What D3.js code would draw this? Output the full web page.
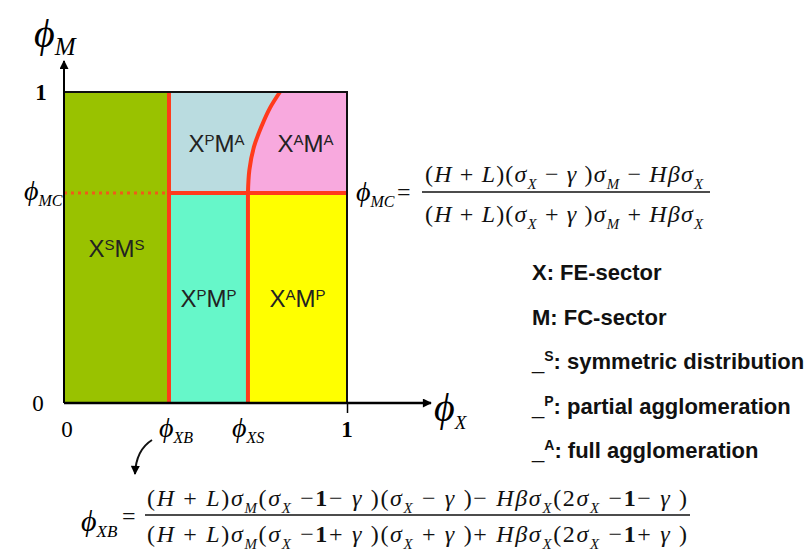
<!DOCTYPE html>
<html>
<head>
  <meta charset="utf-8">
  <title>Agglomeration regimes</title>
  <style type="text/css">
    body { margin: 0; background-color: #fff; }
    svg { display: block; background-color: #fff; }
    .serif { font-family: "Liberation Serif", "Times New Roman", serif; }
    .sans { font-family: "Liberation Sans", Arial, sans-serif; }
  </style>
  <script src="https://d3js.org/d3.v7.min.js"></script>
</head>
<body>
<script>
// boundaries (share of each sector)
var phiXB = 0.371, phiXS = 0.65, phiMC = 0.675;
// the curved border between X^P M^A and X^A M^A
var curveX = [0.650, 0.655, 0.671, 0.700, 0.728, 0.763];
var curveM = [0.675, 0.749, 0.823, 0.894, 0.949, 1.0];

var regionX = ["S", "P", "A", "P", "A"];
var regionM = ["S", "A", "A", "P", "P"];

var legendKeys = ["X", "M", "S", "P", "A"];
var legendText = ["FE-sector", "FC-sector", "symmetric distribution", "partial agglomeration", "full agglomeration"];

var tickValues = [0, 1];

var PHI = "\u03d5";

var svg = d3.select("body").append("svg")
  .attr("width", 811)
  .attr("height", 559);

var x = d3.scaleLinear().domain([0, 1]).range([64, 347]);
var y = d3.scaleLinear().domain([0, 1]).range([403, 92]);

var red = "#ff3b1c";

// arrow head
svg.append("defs").append("marker")
  .attr("id", "arrow")
  .attr("viewBox", "0 0 10 10")
  .attr("refX", 9).attr("refY", 5)
  .attr("markerWidth", 10).attr("markerHeight", 9)
  .attr("markerUnits", "userSpaceOnUse")
  .attr("orient", "auto")
  .append("path").attr("d", "M0,0L10,5L0,10z").attr("fill", "#000");

var plot = svg.append("g");

// Build the regions
var boxes = [
  {x0: 0, x1: phiXB, y0: 0, y1: 1, fill: "#99c200"},
  {x0: phiXB, x1: 1, y0: phiMC, y1: 1, fill: "#badce0"},
  {x0: phiXB, x1: phiXS, y0: 0, y1: phiMC, fill: "#66f7c9"},
  {x0: phiXS, x1: 1, y0: 0, y1: phiMC, fill: "#ffff00"}
];

plot.selectAll("rect.region").data(boxes).enter().append("rect")
  .attr("class", "region")
  .attr("x", function(d) { return x(d.x0); })
  .attr("y", function(d) { return y(d.y1); })
  .attr("width", function(d) { return x(d.x1) - x(d.x0); })
  .attr("height", function(d) { return y(d.y0) - y(d.y1); })
  .style("fill", function(d) { return d.fill; });

var curvePts = curveX.map(function(v, i) { return [v, curveM[i]]; });

var curveLine = d3.line()
  .x(function(d) { return x(d[0]); })
  .y(function(d) { return y(d[1]); })
  .curve(d3.curveCatmullRom);

// pink area right of the curve
plot.append("path")
  .attr("d", curveLine(curvePts) + "L" + x(1) + "," + y(1) + "L" + x(1) + "," + y(phiMC) + "Z")
  .style("fill", "#f8a9de");

// red borders
var borders = [
  [[phiXB, 0], [phiXB, 1]],
  [[phiXS, 0], [phiXS, phiMC]],
  [[phiXB, phiMC], [1, phiMC]]
];
plot.selectAll("path.border").data(borders).enter().append("path")
  .attr("class", "border")
  .attr("d", d3.line().x(function(d) { return x(d[0]); }).y(function(d) { return y(d[1]); }))
  .style("fill", "none").style("stroke", red).style("stroke-width", 4);

plot.append("path")
  .attr("d", curveLine(curvePts))
  .style("fill", "none").style("stroke", red).style("stroke-width", 4);

// dotted guide for phi_MC
plot.append("line")
  .attr("x1", x(0)).attr("x2", x(phiXB))
  .attr("y1", y(phiMC)).attr("y2", y(phiMC))
  .style("stroke", "#f05a1a").style("stroke-width", 3)
  .style("stroke-dasharray", "3,4");

// frame and axes
plot.append("path")
  .attr("d", "M" + x(0) + "," + y(1) + "H" + x(1) + "V" + y(0))
  .style("fill", "none").style("stroke", "#111").style("stroke-width", 2);

svg.append("line")
  .attr("x1", x(0)).attr("x2", 431)
  .attr("y1", y(0)).attr("y2", y(0))
  .style("stroke", "#000").style("stroke-width", 2.5)
  .attr("marker-end", "url(#arrow)");

svg.append("line")
  .attr("x1", x(0)).attr("x2", x(0))
  .attr("y1", y(0)).attr("y2", 61)
  .style("stroke", "#000").style("stroke-width", 2)
  .attr("marker-end", "url(#arrow)");

var xaxis = d3.axisBottom(x).tickValues([1]).tickSize(10).tickSizeOuter(0).tickFormat("");
var xg = svg.append("g").attr("transform", "translate(0," + y(0) + ")").call(xaxis);
xg.select(".domain").remove();
xg.selectAll(".tick line").style("stroke", "#000").style("stroke-width", 1.5);

// numeric tick labels
svg.selectAll("text.xtick").data(tickValues).enter().append("text")
  .attr("class", "xtick serif")
  .attr("x", function(d) { return x(d) + (d === 0 ? 3 : 0); })
  .attr("y", 437)
  .attr("text-anchor", "middle")
  .attr("font-size", 23)
  .attr("font-weight", function(d) { return d === 1 ? "bold" : "normal"; })
  .text(function(d) { return d; });

svg.selectAll("text.ytick").data(tickValues).enter().append("text")
  .attr("class", "ytick serif")
  .attr("x", function(d) { return d === 1 ? 41 : 38; })
  .attr("y", function(d) { return y(d) + 8; })
  .attr("text-anchor", "middle")
  .attr("font-size", 23)
  .attr("font-weight", function(d) { return d === 1 ? "bold" : "normal"; })
  .text(function(d) { return d; });

// phi with italic subscript
function phiLabel(px, py, size, sub, subSize) {
  var t = svg.append("text").attr("class", "serif")
    .attr("x", px).attr("y", py).attr("font-size", size).attr("font-style", "italic");
  t.append("tspan").text(PHI);
  t.append("tspan").attr("font-size", subSize).attr("dy", size * 0.2).text(sub);
  return t;
}

phiLabel(34, 47, 40, "M", 25);
phiLabel(434, 421, 40, "X", 19);
phiLabel(24, 200, 28, "MC", 16);
phiLabel(159, 437, 28, "XB", 16);
phiLabel(232, 437, 28, "XS", 16);

// region labels
var labelPos = [
  [phiXB / 2, 0.5],
  [(phiXB + (phiXS + curveX[curveX.length - 1]) / 2) / 2, (phiMC + 1) / 2],
  [((phiXS + curveX[curveX.length - 1]) / 2 + 1) / 2, (phiMC + 1) / 2],
  [(phiXB + phiXS) / 2, phiMC / 2],
  [(phiXS + 1) / 2, phiMC / 2]
];

var labels = plot.selectAll("text.region").data(regionX).enter().append("text")
  .attr("class", "region sans")
  .attr("x", function(d, i) { return x(labelPos[i][0]); })
  .attr("y", function(d, i) { return y(labelPos[i][1]) + 9; })
  .attr("text-anchor", "middle")
  .attr("font-size", 24)
  .style("fill", "#222");
labels.append("tspan").text("X");
labels.append("tspan").attr("font-size", 15).attr("dy", -7).text(function(d) { return d; });
labels.append("tspan").attr("dy", 7).text("M");
labels.append("tspan").attr("font-size", 15).attr("dy", -7).text(function(d, i) { return regionM[i]; });

// legend
var legend = svg.selectAll("text.legend").data(legendKeys).enter().append("text")
  .attr("class", "legend sans")
  .attr("x", 532)
  .attr("y", function(d, i) { return 280 + i * 44.5; })
  .attr("font-size", 22)
  .attr("font-weight", "bold")
  .style("fill", "#111");
legend.each(function(d, i) {
  var t = d3.select(this);
  if (i < 2) {
    t.append("tspan").text(d + ": " + legendText[i]);
  } else {
    t.append("tspan").attr("font-weight", "normal").text("_");
    t.append("tspan").attr("font-size", 14).attr("dy", -8).text(d);
    t.append("tspan").attr("dy", 8).text(": " + legendText[i]);
  }
});

// formulas
function mathText(px, py, size, tokens, len) {
  var t = svg.append("text").attr("class", "serif")
    .attr("x", px).attr("y", py).attr("font-size", size).style("fill", "#111");
  var shift = 0;
  tokens.forEach(function(tok) {
    var ts = t.append("tspan").text(tok[1]);
    var target = 0;
    if (tok[0] === "i") ts.attr("font-style", "italic");
    if (tok[0] === "b") ts.attr("font-weight", "bold");
    if (tok[0] === "s") {
      ts.attr("font-style", "italic").attr("font-size", size * 0.62);
      target = size * 0.3;
    }
    if (target !== shift) { ts.attr("dy", target - shift); shift = target; }
  });
  if (len) t.attr("textLength", len).attr("lengthAdjust", "spacing");
  return t;
}

// phi_MC
phiLabel(356, 201, 28, "MC", 16);
mathText(397, 200, 24, [["r", "="]]);
mathText(425, 182, 24, [
  ["r", "("], ["i", "H"], ["r", " + "], ["i", "L"], ["r", ")("], ["i", "\u03c3"], ["s", "X"],
  ["r", " \u2212 "], ["i", "\u03b3"], ["r", " )"], ["i", "\u03c3"], ["s", "M"],
  ["r", " \u2212 "], ["i", "H\u03b2\u03c3"], ["s", "X"]
], 278);
svg.append("line").attr("x1", 422).attr("x2", 710).attr("y1", 192).attr("y2", 192)
  .style("stroke", "#111").style("stroke-width", 1.5);
mathText(425, 222, 24, [
  ["r", "("], ["i", "H"], ["r", " + "], ["i", "L"], ["r", ")("], ["i", "\u03c3"], ["s", "X"],
  ["r", " + "], ["i", "\u03b3"], ["r", " )"], ["i", "\u03c3"], ["s", "M"],
  ["r", " + "], ["i", "H\u03b2\u03c3"], ["s", "X"]
], 278);

// phi_XB
phiLabel(81, 531, 30, "XB", 17);
mathText(122, 524, 24, [["r", "="]]);
mathText(147, 506, 24, [
  ["r", "("], ["i", "H"], ["r", " + "], ["i", "L"], ["r", ")"], ["i", "\u03c3"], ["s", "M"],
  ["r", "("], ["i", "\u03c3"], ["s", "X"], ["r", " \u2212"], ["b", "1"], ["r", "\u2212 "], ["i", "\u03b3"],
  ["r", " )("], ["i", "\u03c3"], ["s", "X"], ["r", " \u2212 "], ["i", "\u03b3"], ["r", " )\u2212 "],
  ["i", "H\u03b2\u03c3"], ["s", "X"], ["r", "(2"], ["i", "\u03c3"], ["s", "X"], ["r", " \u2212"], ["b", "1"],
  ["r", "\u2212 "], ["i", "\u03b3"], ["r", " )"]
], 540);
svg.append("line").attr("x1", 145).attr("x2", 690).attr("y1", 515).attr("y2", 515)
  .style("stroke", "#111").style("stroke-width", 1.5);
mathText(147, 542, 24, [
  ["r", "("], ["i", "H"], ["r", " + "], ["i", "L"], ["r", ")"], ["i", "\u03c3"], ["s", "M"],
  ["r", "("], ["i", "\u03c3"], ["s", "X"], ["r", " \u2212"], ["b", "1"], ["r", "+ "], ["i", "\u03b3"],
  ["r", " )("], ["i", "\u03c3"], ["s", "X"], ["r", " + "], ["i", "\u03b3"], ["r", " )+ "],
  ["i", "H\u03b2\u03c3"], ["s", "X"], ["r", "(2"], ["i", "\u03c3"], ["s", "X"], ["r", " \u2212"], ["b", "1"],
  ["r", "+ "], ["i", "\u03b3"], ["r", " )"]
], 540);

// pointer from phi_XB tick label down to its formula
svg.append("path")
  .attr("d", "M152,440 Q136,450 135,474")
  .style("fill", "none").style("stroke", "#111").style("stroke-width", 2)
  .attr("marker-end", "url(#arrow)");
</script>
</body>
</html>
